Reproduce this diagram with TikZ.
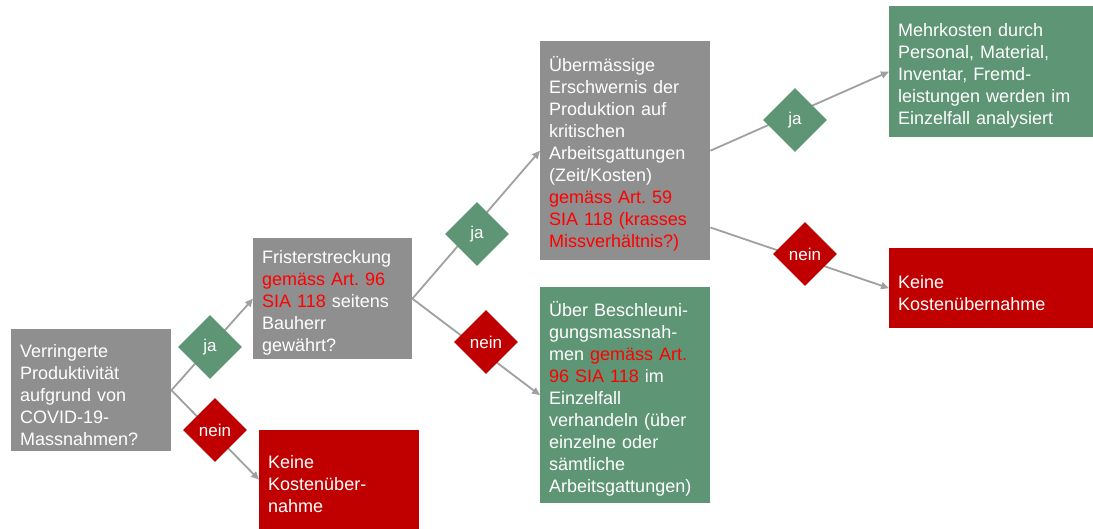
\documentclass[tikz,border=0pt]{standalone}
\usepackage{fontspec}
\setmainfont{Liberation Sans}
\usetikzlibrary{shapes.geometric,arrows.meta,calc}
\definecolor{boxgray}{RGB}{143,143,143}
\definecolor{boxgreen}{RGB}{94,149,117}
\definecolor{boxred}{RGB}{192,0,0}
\definecolor{txtred}{RGB}{255,0,0}
\definecolor{linegray}{RGB}{160,160,160}
\newcommand{\rt}[1]{{\color{txtred}#1}}
\frenchspacing
\tikzset{
  box/.style={rectangle, anchor=north west, inner xsep=9pt, inner ysep=0pt, align=left,
    text=white, font=\fontsize{18}{22}\selectfont,
    execute at begin node={\rule{0pt}{22pt}}},
  graybox/.style={box, fill=boxgray},
  greenbox/.style={box, fill=boxgreen},
  redbox/.style={box, fill=boxred},
  dia/.style={diamond, minimum width=64pt, minimum height=64pt, inner sep=0pt, aspect=1,
    text=white, font=\fontsize{17}{20}\selectfont},
  dja/.style={dia, fill=boxgreen},
  dnein/.style={dia, fill=boxred},
  conn/.style={draw=linegray, line width=1.8pt, -{Triangle[length=8pt,width=7pt]}}
}
\begin{document}
\begin{tikzpicture}[x=1pt,y=-1pt]
\useasboundingbox (0,0) rectangle (1093,529);
\node[graybox, minimum width=160pt, minimum height=122pt, text width=142pt] (A) at (11,329)
  {Verringerte\\Produktivität\\aufgrund von\\COVID-19-\\Massnahmen?};
\node[graybox, minimum width=159pt, minimum height=121pt, text width=141pt] (B) at (253,238)
  {Fristerstreckung\\\rt{gemäss Art. 96}\\\rt{SIA 118} seitens\\Bauherr\\gewährt?};
\node[redbox, minimum width=160pt, minimum height=99pt, text width=142pt] (G) at (259,430)
  {Keine\\Kostenüber-\\nahme};
\node[graybox, minimum width=170pt, minimum height=219pt, text width=152pt] (C) at (540,41)
  {Übermässige\\Erschwernis der\\Produktion auf\\kritischen\\Arbeitsgattungen\\(Zeit/Kosten)\\\rt{gemäss Art. 59}\\\rt{SIA 118 (krasses}\\\rt{Missverhältnis?)}};
\node[greenbox, minimum width=170pt, minimum height=216pt, text width=152pt] (D) at (540,287)
  {Über Beschleuni-\\gungsmassnah-\\men \rt{gemäss Art.}\\\rt{96 SIA 118} im\\Einzelfall\\verhandeln (über\\einzelne oder\\sämtliche\\Arbeitsgattungen)};
\node[greenbox, minimum width=204pt, minimum height=131pt, text width=186pt] (E) at (889,6)
  {Mehrkosten durch\\Personal, Material,\\Inventar, Fremd-\\leistungen werden im\\Einzelfall analysiert};
\node[redbox, minimum width=204pt, minimum height=80pt, text width=186pt] (F) at (889,248)
  {Keine\\Kostenübernahme};
\coordinate (Cj) at ($(C.north east)!0.5!(C.south east)$);
\coordinate (Cn) at ($(C.north east)!0.85!(C.south east)$);
\draw[conn] (A.east) -- (B.west);
\draw[conn] (A.east) -- (G.west);
\draw[conn] (B.east) -- (C.west);
\draw[conn] (B.east) -- (D.west);
\draw[conn] (Cj) -- (E.west);
\draw[conn] (Cn) -- (F.west);
\node[dja] (j1) at (210,347) {ja};
\node[dnein] (n1) at (215,430) {nein};
\node[dja] (j2) at (477,234) {ja};
\node[dnein] (n2) at (486,342) {nein};
\node[dja] (j3) at (795,120) {ja};
\node[dnein] (n3) at (805,254) {nein};
\end{tikzpicture}
\end{document}
